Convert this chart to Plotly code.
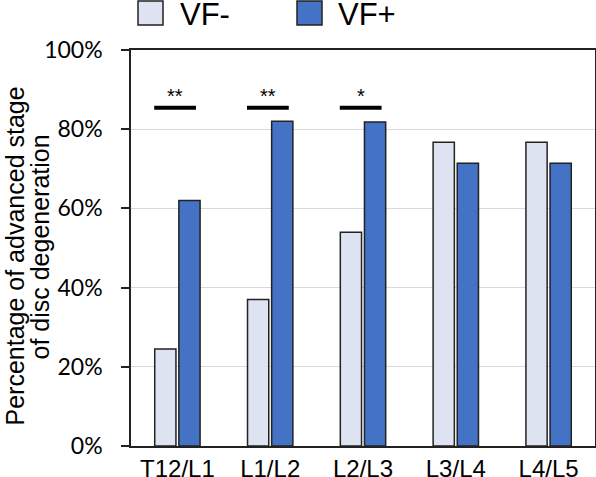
import plotly.graph_objects as go

categories = ["T12/L1", "L1/L2", "L2/L3", "L3/L4", "L4/L5"]
series_names = ["VF-", "VF+"]
vf_minus = [24.5, 37.0, 54.0, 76.7, 76.7]
vf_plus = [62.0, 82.0, 81.8, 71.4, 71.4]
y_ticks = [0, 20, 40, 60, 80, 100]
y_tick_labels = ["0%", "20%", "40%", "60%", "80%", "100%"]
y_title_lines = ["Percentage of advanced stage", "of disc degeneration"]
sig_index = [0, 1, 2]
sig_labels = ["**", "**", "*"]
sig_level = [85.4, 85.4, 85.4]

colors = ["#dde3f1", "#4472c4"]

fig = go.Figure()
for name, vals, col in zip(series_names, [vf_minus, vf_plus], colors):
    fig.add_trace(go.Bar(
        x=categories, y=vals, name=name, showlegend=False,
        marker=dict(color=col, line=dict(color="#222222", width=1.5)),
    ))

shapes = []
annotations = []
for i, lab, lvl in zip(sig_index, sig_labels, sig_level):
    shapes.append(dict(type="line", xref="x", yref="y", x0=i - 0.25, x1=i + 0.2,
                       y0=lvl, y1=lvl, line=dict(color="black", width=4)))
    annotations.append(dict(xref="x", yref="y", x=i - 0.025, y=lvl + 6.3, text=lab,
                            showarrow=False, yanchor="top", xanchor="center",
                            font=dict(family="Liberation Sans, Arial", size=20, color="black")))

# pixel -> paper helpers
W, H = 464.0, 396.0
def px_x(p):
    return (p - 131) / W
def px_y(p):
    return (446 - p) / H

# manual legend
leg_pos = [(138, 178), (297, 336)]
for (sx, tx), name, col in zip(leg_pos, series_names, colors):
    shapes.append(dict(type="rect", xref="paper", yref="paper",
                       x0=px_x(sx), x1=px_x(sx + 25), y0=px_y(25), y1=px_y(1),
                       fillcolor=col, line=dict(color="#222222", width=1.5)))
    annotations.append(dict(xref="paper", yref="paper", x=px_x(tx), y=px_y(14), text=name,
                            showarrow=False, xanchor="left", yanchor="middle",
                            font=dict(family="Liberation Sans, Arial", size=31, color="black")))

# y-axis title as two rotated lines
title_pos = [(-2, 256.5), (23, 247.5)]
for (tx, ty), line in zip(title_pos, y_title_lines):
    annotations.append(dict(xref="paper", yref="paper", x=px_x(tx), y=px_y(ty), text=line,
                            textangle=-90, showarrow=False, xanchor="left", yanchor="middle",
                            font=dict(family="Liberation Sans, Arial", size=25, color="black")))

fig.update_layout(
    width=596, height=477,
    margin=dict(l=131, r=1, t=50, b=31, autoexpand=False),
    plot_bgcolor="white", paper_bgcolor="white",
    barmode="group", bargap=0.48, bargroupgap=0.12,
    shapes=shapes, annotations=annotations,
    font=dict(family="Liberation Sans, Arial", color="black"),
)
fig.update_xaxes(
    showline=True, linecolor="#222222", linewidth=1.5, mirror=True,
    ticks="", tickfont=dict(size=24, family="Liberation Sans, Arial", color="black"),
    automargin=False,
)
fig.update_yaxes(
    range=[0, 100], tickmode="array", tickvals=y_ticks, ticktext=y_tick_labels,
    showline=True, linecolor="#222222", linewidth=1.5, mirror=True,
    ticks="outside", ticklen=8, tickcolor="#222222", tickwidth=1.5,
    showgrid=True, gridcolor="#d9d9d9", gridwidth=1,
    tickfont=dict(size=23, family="Lato", color="black"),
    ticklabelstandoff=14, automargin=False,
)

fig.write_html("out.html", config={"displayModeBar": False},
               post_script="document.body.style.margin='0';document.body.style.overflow='hidden';")
